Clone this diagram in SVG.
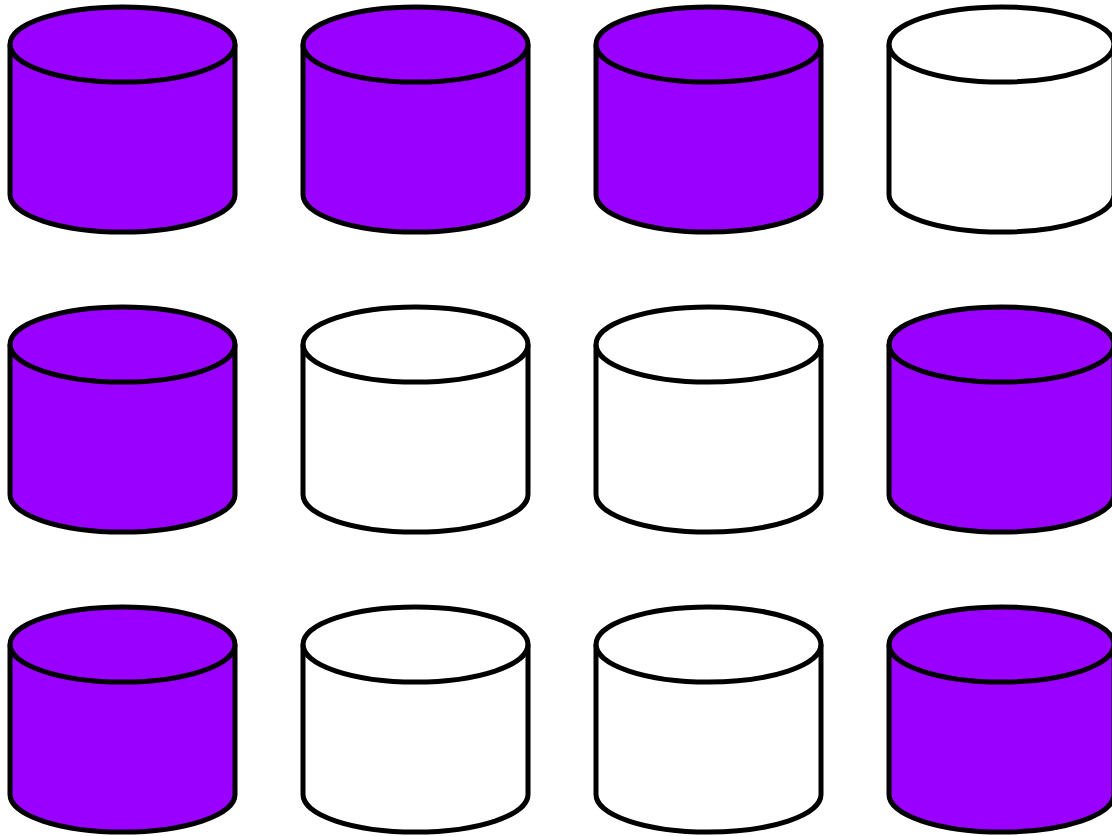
<svg xmlns="http://www.w3.org/2000/svg" width="1112" height="836" viewBox="0 0 1112 836">
<style>
.cyl{stroke:#000;stroke-width:5;stroke-linejoin:round}
.p{fill:#9900ff}
.w{fill:#fff}
.rim{fill:none;stroke:#000;stroke-width:5}
</style>
<defs>
<g id="cyl-shape">
<path d="M0,37.5 A112.5,37.5 0 0 1 225,37.5 V187.5 A112.5,37.5 0 0 1 0,187.5 Z"/>
<path class="rim" d="M0,37.5 A112.5,37.5 0 0 0 225,37.5"/>
</g>
</defs>
<rect width="1112" height="836" fill="#fff"/>
<g id="n1" class="cyl p" transform="translate(10,7)"><use href="#cyl-shape"/></g>
<g id="n2" class="cyl p" transform="translate(303,7)"><use href="#cyl-shape"/></g>
<g id="n3" class="cyl p" transform="translate(596,7)"><use href="#cyl-shape"/></g>
<g id="n4" class="cyl w" transform="translate(889,7)"><use href="#cyl-shape"/></g>
<g id="n5" class="cyl p" transform="translate(10,307)"><use href="#cyl-shape"/></g>
<g id="n6" class="cyl w" transform="translate(303,307)"><use href="#cyl-shape"/></g>
<g id="n7" class="cyl w" transform="translate(596,307)"><use href="#cyl-shape"/></g>
<g id="n8" class="cyl p" transform="translate(889,307)"><use href="#cyl-shape"/></g>
<g id="n9" class="cyl p" transform="translate(10,607)"><use href="#cyl-shape"/></g>
<g id="n10" class="cyl w" transform="translate(303,607)"><use href="#cyl-shape"/></g>
<g id="n11" class="cyl w" transform="translate(596,607)"><use href="#cyl-shape"/></g>
<g id="n12" class="cyl p" transform="translate(889,607)"><use href="#cyl-shape"/></g>
<g id="connectors"/>
</svg>
